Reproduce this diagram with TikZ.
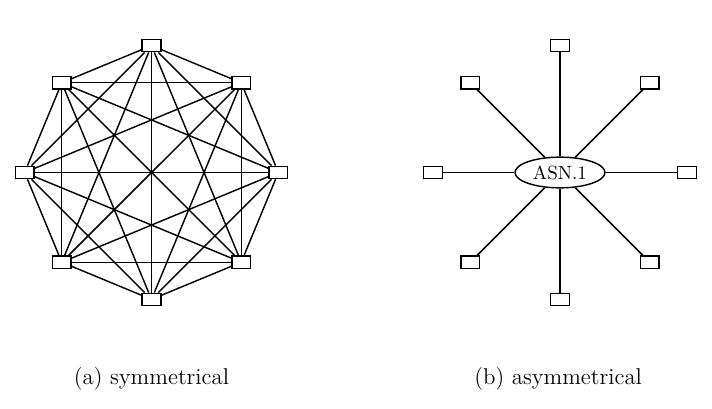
\documentclass[tikz,border=0pt]{standalone}
\usetikzlibrary{shapes.geometric,calc}
\tikzset{every picture/.style={line width=0.75pt}}
\tikzset{
  peer/.style={draw, rectangle, fill=white, inner sep=0pt, minimum width=0.345cm, minimum height=0.227cm},
  hub/.style={draw, ellipse, fill=white, inner sep=0pt, minimum width=1.66cm, minimum height=0.566cm},
  caption/.style={font=\large}
}

\begin{document}
\begin{tikzpicture}
    \useasboundingbox (-2.794,-4.361) rectangle (10.336,3.181);

    % (a) 全连接：八个端点
    \foreach \k in {1,...,8}
        \node[peer] (a\k) at ({90-45*(\k-1)}:2.34) {};
    % 两两相连
    \foreach \i in {1,...,7} {
        \pgfmathtruncatemacro{\first}{\i+1}
        \foreach \j in {\first,...,8}
            \draw (a\i) -- (a\j);
    }

    % (b) 星形：中心 ASN.1
    \node[hub] (asn) at (7.533,0) {ASN.1};
    \foreach \k in {1,...,8} {
        \node[peer] (b\k) at ($(asn.center)+({90-45*(\k-1)}:2.34)$) {};
        \draw (asn) -- (b\k);
    }

    % 子图标题
    \node[caption] (capa) at (0,-3.81) {(a) symmetrical};
    \node[caption] (capb) at (7.50,-3.81) {(b) asymmetrical};
\end{tikzpicture}
\end{document}
